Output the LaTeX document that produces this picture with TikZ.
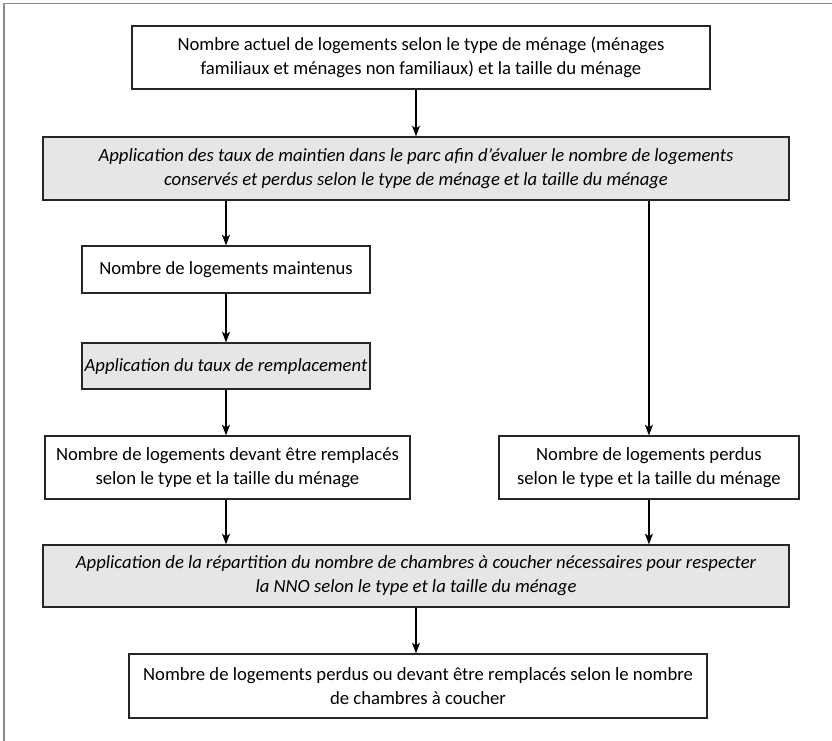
\documentclass[tikz,border=0pt]{standalone}
\usepackage{fontspec}
\setmainfont{Carlito}
\usepackage{tikz}
\usetikzlibrary{positioning, arrows.meta}
\definecolor{fondgris}{HTML}{E6E6E6}
\definecolor{cadregris}{HTML}{8A8A8A}

\begin{document}
\begin{tikzpicture}[>={Stealth[length=8pt,width=6pt,inset=2pt]}, line width=0.9pt, on grid,
    etape/.style={draw=black!85, line width=0.9pt, align=center, inner sep=0pt,
      font=\fontsize{14}{18}\selectfont},
    calcul/.style={etape, fill=fondgris, font=\fontsize{14}{18}\selectfont\itshape}]
  \useasboundingbox (-312pt,126.375pt) rectangle (312pt,-428.625pt);
  \draw[cadregris, line width=1pt] (-309pt,-432pt) -- (-309pt,123.75pt) -- (315pt,123.75pt);

  \node[calcul, minimum width=559.5pt, minimum height=47.25pt] (taux)
    {Application des taux de maintien dans le parc afin d’évaluer le nombre de logements\\
     conservés et perdus selon le type de ménage et la taille du ménage};
  \node[etape, minimum width=433.5pt, minimum height=47.25pt] (actuel) [above=83.25pt of taux, xshift=3.75pt]
    {Nombre actuel de logements selon le type de ménage (ménages\\
     familiaux et ménages non familiaux) et la taille du ménage};
  \node[etape, minimum width=216pt, minimum height=35.25pt] (maintenus) [below left=75.75pt and 142.5pt of taux]
    {Nombre de logements maintenus};
  \node[calcul, minimum width=216pt, minimum height=34.5pt] (remplacement) [below=72.4pt of maintenus]
    {Application du taux de remplacement};
  \node[etape, minimum width=273.75pt, minimum height=47.25pt] (remplaces) [below=76.1pt of remplacement, xshift=1.1pt]
    {Nombre de logements devant être remplacés\\
     selon le type et la taille du ménage};
  \node[etape, minimum width=225pt, minimum height=47.25pt] (perdus) [right=316.1pt of remplaces]
    {Nombre de logements perdus\\
     selon le type et la taille du ménage};
  \node[calcul, minimum width=559.5pt, minimum height=46.5pt] (repartition) [below=305.6pt of taux]
    {Application de la répartition du nombre de chambres à coucher nécessaires pour respecter\\
     la NNO selon le type et la taille du ménage};
  \node[etape, minimum width=433.5pt, minimum height=48pt] (chambres) [below=82.5pt of repartition, xshift=1.5pt]
    {Nombre de logements perdus ou devant être remplacés selon le nombre\\
     de chambres à coucher};

  \path[->]
  (actuel.south -| taux.north) edge (taux.north)
  (taux.south -| maintenus.north) edge (maintenus.north)
  (taux.south -| perdus.north) edge (perdus.north)
  (maintenus) edge (remplacement)
  (remplacement.south) edge (remplacement.south |- remplaces.north)
  (remplaces.south -| remplacement.south) edge (remplacement.south |- repartition.north)
  (perdus.south) edge (perdus.south |- repartition.north)
  (repartition.south) edge (repartition.south |- chambres.north);
\end{tikzpicture}
\end{document}
